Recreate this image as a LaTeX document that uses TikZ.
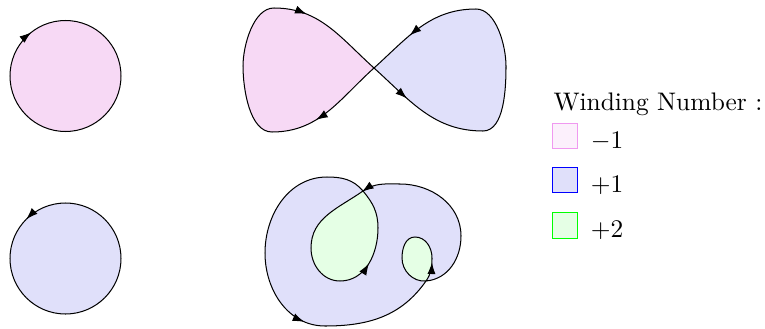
\documentclass[tikz,border=0pt]{standalone}
\usepackage{tikz}
\usetikzlibrary{arrows.meta, positioning, calc, decorations.markings}
\definecolor{lobepink}{rgb}{0.97,0.85,0.96}
\definecolor{lobeblue}{rgb}{0.88,0.88,0.98}
\definecolor{lobegreen}{rgb}{0.9,1,0.9}
\definecolor{legpink}{rgb}{0.99,0.94,0.99}
\definecolor{legpinkline}{rgb}{0.94,0.6,0.94}

% figure eight, crossing at (374,260)
\newcommand{\eightcurve}{(374,260)
  to[out=-42, in=180] (483,197) to[out=0, in=-90, looseness=0.8] (506,262)
  to[out=90, in=0, looseness=0.8] (476,319) to[out=180, in=42] (374,260)
  to[out=222, in=0] (272,196) to[out=180, in=-90, looseness=0.8] (243,262)
  to[out=90, in=180, looseness=0.8] (274,320) to[out=0, in=138] (374,260) -- cycle}
% curve with two inner loops, crossings at (363,137) and (426,47)
\newcommand{\blobcurve}{(400,144)
  to[out=180, in=35] (363,137) to[out=215, in=90] (311,80)
  to[out=-90, in=180] (340,47) to[out=0, in=-90] (378,100)
  to[out=90, in=-50] (363,137) to[out=130, in=0] (327,151)
  to[out=180, in=90] (265,75) to[out=-90, in=180] (325,2)
  to[out=0, in=235] (426,47) to[out=55, in=-90] (432,70)
  to[out=90, in=0] (415,91) to[out=180, in=90] (402,70)
  to[out=-90, in=185] (426,47) to[out=5, in=-90] (461,92)
  to[out=90, in=0] (400,144) -- cycle}

\begin{document}
\begin{tikzpicture}[x=0.394pt, y=0.394pt,
  >={Latex[length=4.6pt, width=3.2pt]},
  arr/.style={postaction={decorate, decoration={markings,
    mark=at position #1 with {\arrow{>}}}}},
  rarr/.style={postaction={decorate, decoration={markings,
    mark=at position #1 with {\arrowreversed{>}}}}},
  legbox/.style={draw, minimum size=10.2pt, inner sep=0pt},
  lbl/.style={inner sep=0pt, anchor=base west}
]
\useasboundingbox (0,0) rectangle (765,328);

% circles
\draw[fill=lobepink, rarr=0.356] (65.5,252) circle[radius=55.5];
\draw[fill=lobeblue, arr=0.375] (65.5,69.5) circle[radius=55.5];

% figure eight
\fill[lobeblue] \eightcurve;
\begin{scope}
  \clip (0,0) rectangle (374,328);
  \fill[lobepink] \eightcurve;
\end{scope}
\draw[arr=0.057, arr=0.44, arr=0.6, arr=0.89] \eightcurve;

% curve with winding 2 parts
\fill[lobegreen] \blobcurve;
\fill[lobeblue, even odd rule] \blobcurve;
\draw[arr=0.043, arr=0.221, arr=0.558, arr=0.728] \blobcurve;

% legend
\node[lbl] (title) at (553,218) {Winding Number :};
\node[legbox, draw=legpinkline, fill=legpink] (neg) at (565,192) {};
\node[legbox, draw=blue, fill=lobeblue] (one) at (565,148) {};
\node[legbox, draw=green, fill=lobegreen] (two) at (565,102.5) {};
\node[lbl] (negtxt) at ($(neg.south east)+(12,1)$) {$-1$};
\node[lbl] (onetxt) at ($(one.south east)+(12,1)$) {$+1$};
\node[lbl] (twotxt) at ($(two.south east)+(12,1)$) {$+2$};
\end{tikzpicture}
\end{document}
